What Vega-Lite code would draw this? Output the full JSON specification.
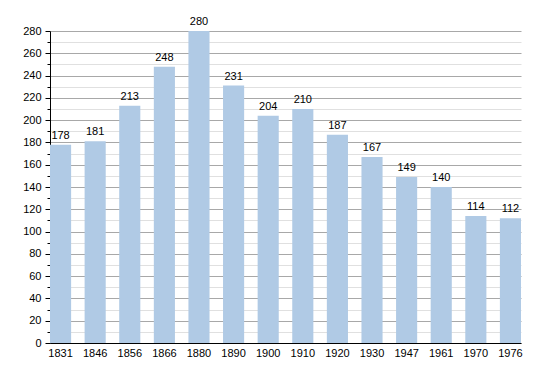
{
  "$schema": "https://vega.github.io/schema/vega-lite/v6.json",
  "width": 471,
  "height": 312,
  "autosize": "none",
  "padding": {"left": 50, "top": 31, "right": 29, "bottom": 30},
  "background": "white",
  "config": {
    "font": "Liberation Sans",
    "view": {"stroke": null}
  },
  "data": {
    "values": [
      {"year": "1831", "pop": 178},
      {"year": "1846", "pop": 181},
      {"year": "1856", "pop": 213},
      {"year": "1866", "pop": 248},
      {"year": "1880", "pop": 280},
      {"year": "1890", "pop": 231},
      {"year": "1900", "pop": 204},
      {"year": "1910", "pop": 210},
      {"year": "1920", "pop": 187},
      {"year": "1930", "pop": 167},
      {"year": "1947", "pop": 149},
      {"year": "1961", "pop": 140},
      {"year": "1970", "pop": 114},
      {"year": "1976", "pop": 112}
    ]
  },
  "encoding": {
    "x": {
      "field": "year",
      "type": "ordinal",
      "sort": null,
      "scale": {"paddingInner": 0.39, "paddingOuter": 0},
      "axis": {
        "title": null,
        "labelAngle": 0,
        "labelFontSize": 11,
        "labelColor": "#000",
        "ticks": false,
        "labelPadding": 4,
        "domainColor": "#000",
        "domainWidth": 1
      }
    },
    "y": {
      "field": "pop",
      "type": "quantitative",
      "scale": {"domain": [0, 280], "nice": false},
      "axis": {
        "title": null,
        "values": [0,10,20,30,40,50,60,70,80,90,100,110,120,130,140,150,160,170,180,190,200,210,220,230,240,250,260,270,280],
        "labelExpr": "datum.value % 20 === 0 ? datum.label : ''",
        "labelFontSize": 11,
        "labelColor": "#000",
        "labelPadding": 4,
        "domainColor": "#000",
        "tickColor": "#000",
        "tickSize": {"condition": {"test": "datum.value % 20 === 0", "value": 5}, "value": 3},
        "grid": true,
        "gridColor": {"condition": {"test": "datum.value % 20 === 0", "value": "#a8a8a8"}, "value": "#e0e0e0"},
        "gridWidth": 1
      }
    }
  },
  "layer": [
    {"mark": {"type": "bar", "color": "#b0cae5"}},
    {
      "mark": {"type": "text", "baseline": "bottom", "dy": -4, "fontSize": 11, "color": "#000"},
      "encoding": {"text": {"field": "pop", "type": "quantitative"}}
    }
  ]
}
